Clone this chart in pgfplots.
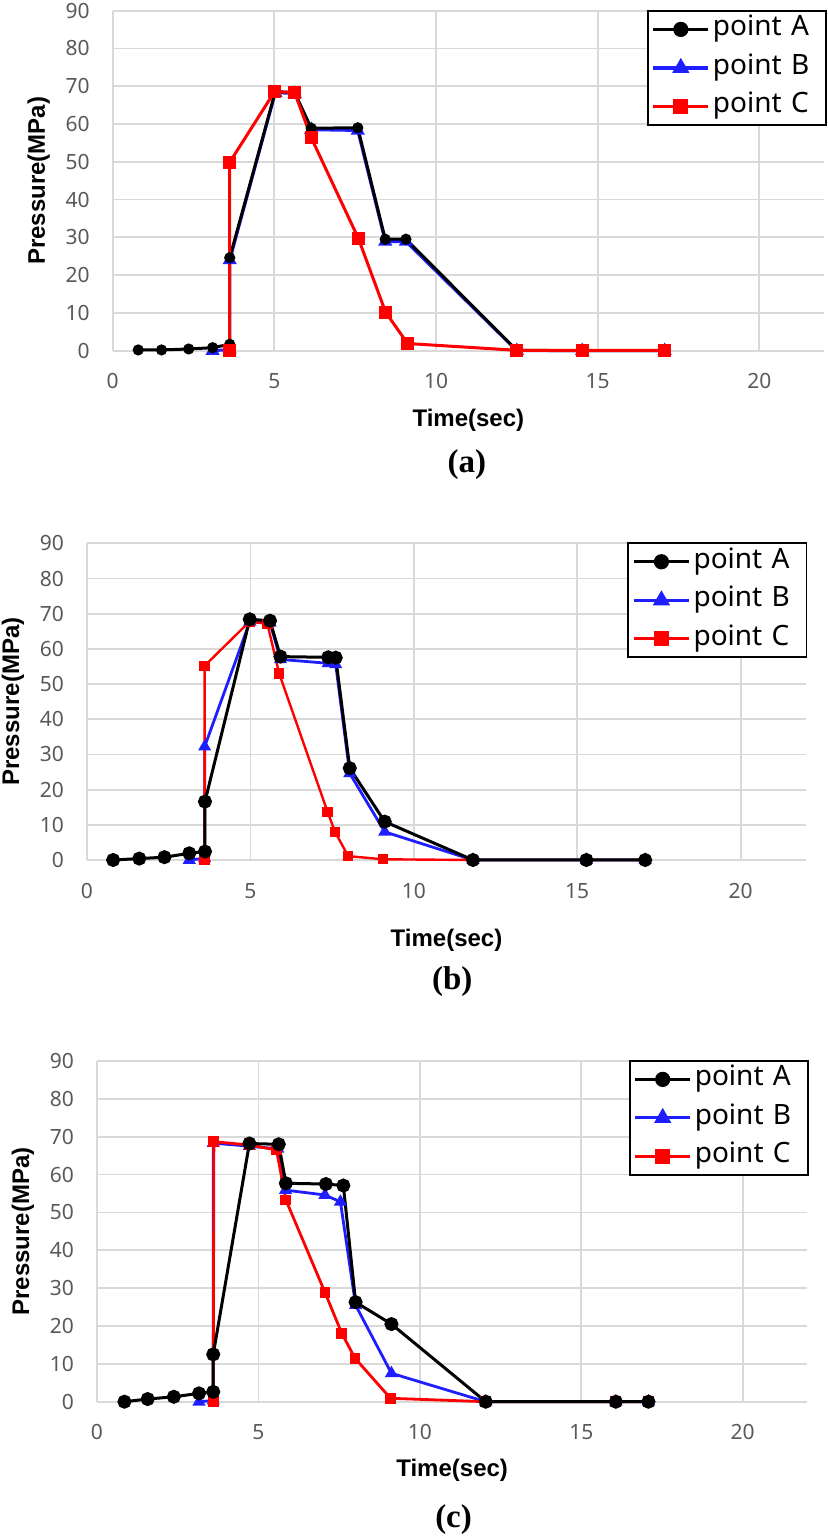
\documentclass[border=0pt]{standalone}
\usepackage{fontspec}
\setmainfont{Noto Sans}
\newfontfamily\capfont{Liberation Serif}
\newfontfamily\lblsans{Liberation Sans}
\usepackage{pgfplots}
\pgfplotsset{compat=1.18}
\definecolor{gridgray}{RGB}{217,217,217}
\definecolor{ticktext}{RGB}{89,89,89}
\definecolor{bl}{RGB}{30,30,255}
\definecolor{rd}{RGB}{255,0,0}
\newcommand{\lblfont}{\lblsans\bfseries\fontsize{12}{14}\selectfont}
\pgfplotsset{
 excel/.style={
  scale only axis, xmin=0, xmax=22, ymin=0, ymax=90,
  xtick={0,5,10,15,20}, ytick={0,10,...,90},
  grid=major, major grid style={gridgray, line width=0.9pt},
  axis line style={draw=none}, major tick length=0pt,
  tick label style={font=\fontsize{10.5}{12}\selectfont, text=ticktext},
  /pgf/number format/assume math mode=true,
  xticklabel style={yshift=-8pt},
  yticklabel style={xshift=-8pt},
  xlabel={Time(sec)}, ylabel={Pressure(MPa)},
  every axis y label/.style={at={(axis description cs:0,0.5)}, xshift=-37pt, rotate=90, anchor=center, font=\lblfont},
  legend cell align=left,
  legend image code/.code={\draw[mark repeat=2,mark phase=2,#1] plot coordinates {(0pt,0pt) (13.75pt,0pt) (27.5pt,0pt)};},
  legend style={draw=black, line width=0.9pt, font=\fontsize{14}{16}\selectfont,
    inner xsep=2pt, inner ysep=1pt, row sep=2.75pt,
    nodes={inner sep=1.5pt, text height=10pt, text depth=3.5pt},
    /tikz/every even column/.append style={text width=53pt}},
  clip=false,
 },
 legA/.style={black, line width=1.6pt, mark=*, mark size=3pt},
 legB/.style={bl, line width=1.6pt, mark=triangle*, mark size=3.4pt},
 legC/.style={rd, line width=1.6pt, mark=square*, mark size=3pt},
}
\begin{document}
\begin{tikzpicture}
\path[use as bounding box] (0,0) rectangle (413.5pt,769.5pt);
% ---------------- (a)
\begin{axis}[excel, at={(56.35pt,594.15pt)}, anchor=south west,
  width=355.65pt, height=170pt,
  every axis x label/.style={at={(axis description cs:0.5,-0.204)}, anchor=center, font=\lblfont},
  legend style={at={(rel axis cs:1.004,1.002)}, anchor=north east}]
\addlegendimage{legA}\addlegendentry{point A}
\addlegendimage{legB}\addlegendentry{point B}
\addlegendimage{legC}\addlegendentry{point C}
\addplot[forget plot, bl, line width=1.5pt, mark=triangle*, mark size=2.6pt] coordinates {
(3.09,0)(3.62,0.3)(3.62,24)(5.03,68.3)(5.63,68.1)(6.14,58.5)(7.58,58.3)(8.43,28.9)(9.07,28.9)(12.5,0)(14.52,0)(17.07,0)};
\addplot[forget plot, black, line width=1.5pt, mark=*, mark size=2pt] coordinates {
(0.79,0.2)(1.51,0.2)(2.35,0.45)(3.09,0.8)(3.62,1.7)(3.62,24.6)(5.03,68.6)(5.63,68.3)(6.14,58.9)(7.58,59.0)(8.43,29.5)(9.07,29.5)(12.5,0.1)(14.52,0)(17.07,0)};
\addplot[forget plot, rd, line width=1.5pt, mark=square*, mark size=2.5pt] coordinates {
(3.62,0)(3.62,49.9)(5.01,68.6)(5.63,68.3)(6.14,56.4)(7.6,29.7)(8.44,10.2)(9.12,1.9)(12.5,0.1)(14.52,0.1)(17.07,0.1)};
\node[font=\capfont\bfseries\fontsize{16.5}{18}\selectfont] at (rel axis cs:0.498,-0.336) {(a)};
\end{axis}
% ---------------- (b)
\begin{axis}[excel, at={(43.5pt,339.5pt)}, anchor=south west,
  width=359.5pt, height=158.35pt,
  every axis x label/.style={at={(axis description cs:0.5,-0.253)}, anchor=center, font=\lblfont},
  legend style={at={(rel axis cs:1.002,1.003)}, anchor=north east}]
\addlegendimage{legA}\addlegendentry{point A}
\addlegendimage{legB}\addlegendentry{point B}
\addlegendimage{legC}\addlegendentry{point C}
\addplot[forget plot, bl, line width=1.4pt, mark=triangle*, mark size=2.4pt] coordinates {
(3.13,0)(3.6,0.5)(3.6,32.2)(4.98,67.7)(5.6,67.4)(5.92,57.0)(7.38,55.9)(7.61,55.6)(8.04,24.6)(9.11,8.0)(11.81,0)(15.28,0)(17.08,0)};
\addplot[forget plot, rd, line width=1.2pt, mark=square*, mark size=2pt] coordinates {
(3.6,0)(3.6,55.2)(4.98,67.8)(5.52,67.1)(5.88,53.0)(7.36,13.7)(7.59,8.0)(7.99,1.1)(9.06,0.2)(11.81,0)(15.28,0)(17.08,0)};
\addplot[forget plot, black, line width=1.5pt, mark=*, mark size=2.75pt] coordinates {
(0.8,0)(1.6,0.4)(2.37,0.8)(3.13,1.9)(3.61,2.4)(3.61,16.6)(4.98,68.4)(5.6,68.0)(5.92,57.8)(7.38,57.6)(7.61,57.5)(8.04,26.1)(9.11,10.9)(11.81,0)(15.28,0)(17.08,0)};
\node[font=\capfont\bfseries\fontsize{16.5}{18}\selectfont] at (rel axis cs:0.508,-0.384) {(b)};
\end{axis}
% ---------------- (c)
\begin{axis}[excel, at={(48.5pt,68.65pt)}, anchor=south west,
  width=355.15pt, height=170.35pt,
  every axis x label/.style={at={(axis description cs:0.5,-0.2)}, anchor=center, font=\lblfont},
  legend style={at={(rel axis cs:1.002,1.003)}, anchor=north east}]
\addlegendimage{legA}\addlegendentry{point A}
\addlegendimage{legB}\addlegendentry{point B}
\addlegendimage{legC}\addlegendentry{point C}
\addplot[forget plot, bl, line width=1.4pt, mark=triangle*, mark size=2.4pt] coordinates {
(3.16,0)(3.6,0.3)(3.6,68.3)(4.72,67.5)(5.6,66.8)(5.84,55.9)(7.06,54.6)(7.54,52.8)(8.01,25.5)(9.12,7.5)(12.04,0)(16.07,0)(17.08,0)};
\addplot[forget plot, rd, line width=1.4pt, mark=square*, mark size=2pt] coordinates {
(3.6,0)(3.62,68.7)(4.72,67.8)(5.56,66.5)(5.85,53.3)(7.06,28.9)(7.58,18.1)(7.99,11.5)(9.09,0.9)(12.04,0)(16.07,0)(17.08,0)};
\addplot[forget plot, black, line width=1.5pt, mark=*, mark size=2.75pt] coordinates {
(0.85,0)(1.57,0.7)(2.38,1.3)(3.16,2.2)(3.6,2.6)(3.6,12.5)(4.72,68.2)(5.63,68.0)(5.85,57.7)(7.09,57.5)(7.63,57.1)(8.01,26.3)(9.12,20.5)(12.04,0)(16.07,0)(17.08,0)};
\node[font=\capfont\bfseries\fontsize{16.5}{18}\selectfont] at (rel axis cs:0.502,-0.347) {(c)};
\end{axis}
\end{tikzpicture}
\end{document}
